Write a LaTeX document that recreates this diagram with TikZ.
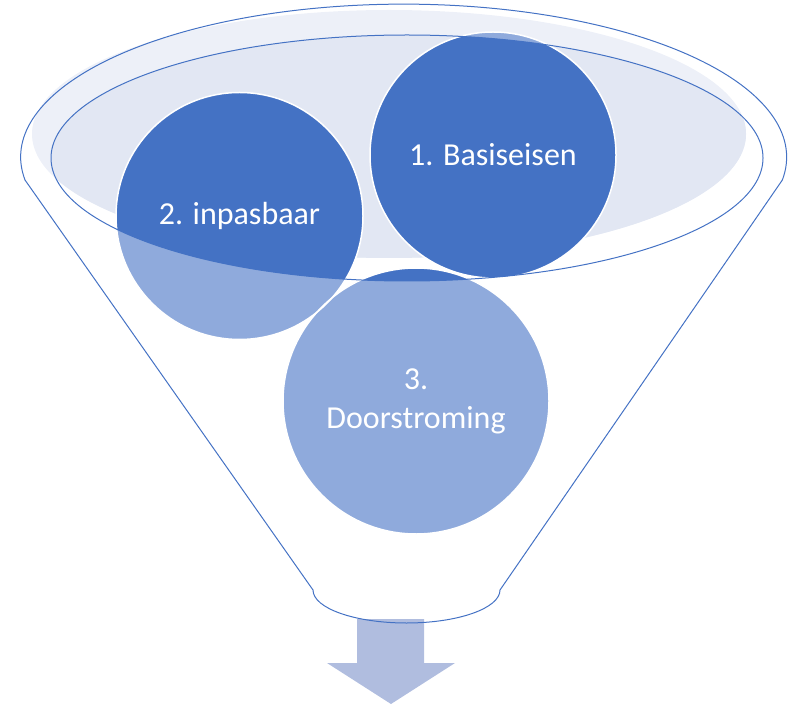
\documentclass[tikz,border=0pt]{standalone}
\usepackage{fontspec}
\setmainfont{Carlito}
\definecolor{accent}{HTML}{4472C4}
\definecolor{accentlight}{HTML}{8FAADC}
\definecolor{bandlight}{HTML}{EDF0F8}
\definecolor{banddark}{HTML}{E2E7F3}
\definecolor{arrowblue}{HTML}{B0BDDF}
\begin{document}
\begin{tikzpicture}[x=1pt,y=1pt,
    rim/.style={draw=accent, line width=1pt},
    stage/.style={text=white, font=\fontsize{32}{39}\selectfont, align=center}]
    \useasboundingbox (0,0) rectangle (789,705);

    % Centres
    \coordinate (band) at (389,571);
    \coordinate (mouth) at (407,547);
    \coordinate (c1) at (493,550);
    \coordinate (c2) at (239.5,489);
    \coordinate (c3) at (416,304);

    % Light band at the top
    \fill[bandlight] (band) ellipse[x radius=357pt, y radius=124pt];
    \begin{scope}
        \clip (mouth) ellipse[x radius=356pt, y radius=123pt];
        \fill[banddark] (band) ellipse[x radius=357pt, y radius=124pt];
    \end{scope}

    % Circles, pale below the mouth
    \fill[accentlight] (c1) circle[radius=123pt];
    \fill[accentlight] (c2) circle[radius=123.5pt];
    \fill[accentlight] (c3) circle[radius=133pt];
    \begin{scope}
        \clip (mouth) ellipse[x radius=356pt, y radius=123pt];
        \fill[accent] (c1) circle[radius=123pt];
        \fill[accent] (c2) circle[radius=123.5pt];
        \fill[accent] (c3) circle[radius=133pt];
    \end{scope}
    \draw[white, line width=1.5pt] (c1) circle[radius=123pt];
    \draw[white, line width=1.5pt] (c2) circle[radius=123.5pt];
    \draw[white, line width=1.5pt] (c3) circle[radius=133pt];

    % Arrow out of the funnel
    \fill[arrowblue] (357,86) -- (424,86) -- (424,42) -- (455,42) -- (391,1)
        -- (327,42) -- (357,42) -- cycle;

    % Funnel
    \draw[rim] (mouth) ellipse[x radius=356pt, y radius=123pt];
    \draw[rim] (25,525) arc[start angle=188.6, end angle=-8.6, x radius=383pt, y radius=153pt]
        -- (500,115) arc[start angle=0, end angle=-180, x radius=93.5pt, y radius=33pt] -- cycle;

    % Labels
    \node[stage] (basis) at (c1) {1. Basiseisen};
    \node[stage] (inpas) at (c2) {2. inpasbaar};
    \node[stage] (door) at (c3) {3.\\Doorstroming};
\end{tikzpicture}
\end{document}
